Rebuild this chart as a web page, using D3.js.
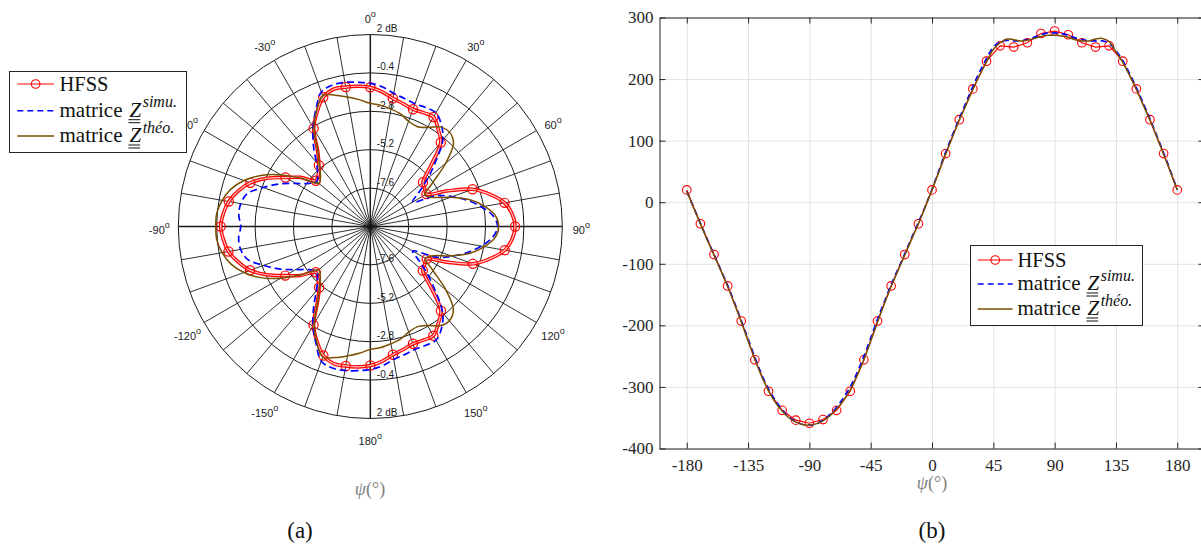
<!DOCTYPE html>
<html><head><meta charset="utf-8">
<script src="https://cdn.jsdelivr.net/npm/d3@7"></script>
<style>
body{margin:0;background:#fff} svg{display:block}
.serif{font-family:"Liberation Serif","DejaVu Serif",serif}
.sans{font-family:"Liberation Sans","DejaVu Sans",sans-serif}
</style>
</head><body>
<svg id="c" width="1201" height="544"></svg>
<script>
// ---------- DATA: polar radiation pattern (dB) ----------
const polarAngles = [-180,-175,-170,-165,-160,-155,-150,-145,-140,-135,-130,-125,-120,-115,-110,-105,-100,-95,
  -90,-85,-80,-75,-70,-65,-60,-55,-50,-45,-40,-35,-30,-25,-20,-15,-10,-5,
  0,5,10,15,20,25,30,35,40,45,50,55,60,65,70,75,80,85,
  90,95,100,105,110,115,120,125,130,135,140,145,150,155,160,165,170,175];
const hfssDb = [-1.31,-1.19,-1.15,-1.13,-1.42,-2.1,-2.9,-4.25,-5.02,-5.38,-5.55,-4.66,-3.86,-2.86,-2.0,-1.45,-1.0,-0.78,
  -0.65,-0.78,-1.02,-1.45,-2.02,-2.86,-3.88,-4.65,-5.55,-5.4,-5.0,-4.27,-2.92,-2.12,-1.4,-1.12,-1.15,-1.2,
  -1.3,-1.55,-1.87,-2.05,-2.2,-2.15,-2.1,-2.6,-3.15,-4.67,-5.7,-5.85,-5.95,-4.75,-3.2,-2.25,-1.48,-1.1,
  -0.95,-1.1,-1.47,-2.24,-3.18,-4.73,-5.93,-5.86,-5.72,-4.65,-3.13,-2.6,-2.12,-2.16,-2.2,-2.04,-1.86,-1.54];
const simuDb = [-1.06,-0.96,-0.86,-0.84,-1.04,-1.96,-2.84,-3.82,-4.76,-5.33,-5.6,-5.3,-4.6,-3.72,-2.9,-2.06,-1.77,-1.74,
  -1.9,-1.75,-1.78,-2.05,-2.88,-3.71,-4.62,-5.31,-5.62,-5.35,-4.75,-3.8,-2.85,-1.95,-1.05,-0.85,-0.85,-0.95,
  -1.05,-1.25,-1.55,-1.72,-1.84,-1.8,-1.8,-2.25,-2.95,-4.2,-5.3,-6.3,-6.95,-5.45,-4.55,-3.7,-2.95,-2.3,
  -2.04,-2.32,-2.96,-3.72,-4.56,-5.47,-6.93,-6.28,-5.31,-4.22,-2.96,-2.24,-1.79,-1.81,-1.83,-1.71,-1.56,-1.26];
const theoDb = [-2.32,-2.05,-1.79,-1.52,-1.32,-2.06,-2.96,-4.28,-5.06,-5.58,-5.78,-4.74,-3.54,-2.44,-1.6,-0.97,-0.6,-0.37,
  -0.34,-0.37,-0.6,-0.98,-1.6,-2.45,-3.55,-4.75,-5.8,-5.6,-5.05,-4.3,-2.95,-2.05,-1.3,-1.5,-1.78,-2.04,
  -2.3,-2.4,-2.55,-2.72,-3.0,-3.1,-2.85,-2.4,-2.3,-2.65,-3.85,-5.25,-6.05,-5.7,-4.65,-3.55,-2.75,-2.15,
  -1.98,-2.16,-2.76,-3.54,-4.64,-5.68,-6.03,-5.23,-3.83,-2.66,-2.31,-2.42,-2.86,-3.08,-2.98,-2.71,-2.56,-2.41];
const ringDb = [-7.6,-5.2,-2.8,-0.4,2];
const ringLabels = ['-7.6','-5.2','-2.8','-0.4','2 dB'];
const polarTickAngles = [0,30,60,90,120,150,180,210,240,270,300,330];
const polarTickLabels = ['0','30','60','90','120','150','180','-150','-120','-90','-60','-30'];

// ---------- DATA: phase curve ----------
const phaseAngles10 = [-180,-170,-160,-150,-140,-130,-120,-110,-100,-90,-80,-70,-60,-50,-40,-30,-20,-10,0,
  10,20,30,40,50,60,70,80,90,100,110,120,130,140,150,160,170,180];
const hfssPhase = [20,-35,-85,-136,-193,-256,-307,-338,-354,-359,-353,-338,-307,-256,-193,-136,-85,-35,20,
  79,134,184,229,254,252,259,274,278,272,259,252,254,229,184,134,79,20];
const phaseAngles5 = [-180,-175,-170,-165,-160,-155,-150,-145,-140,-135,-130,-125,-120,-115,-110,-105,-100,-95,
  -90,-85,-80,-75,-70,-65,-60,-55,-50,-45,-40,-35,-30,-25,-20,-15,-10,-5,0,
  5,10,15,20,25,30,35,40,45,50,55,60,65,70,75,80,85,90,95,100,105,110,115,120,125,130,135,140,145,150,155,160,165,170,175,180];
const simuPhase = [18,-8,-34,-60,-85,-110,-135,-163,-192,-222,-252,-280,-303,-322,-337,-349,-356,-361,
  -362,-360,-354,-345,-333,-318,-300,-277,-250,-221,-190,-162,-134,-109,-84,-58,-33,-7,21,
  51,81,109,136,162,188,212,233,252,260,263,262,262,264,268,272,275,275,274,271,267,264,262,262,262,258,246,230,209,186,161,135,108,80,51,20];
const theoPhase = [18,-9,-35,-61,-86,-111,-137,-165,-194,-225,-255,-283,-306,-325,-339,-350,-357,-361,
  -362,-360,-355,-347,-336,-322,-305,-282,-256,-226,-195,-165,-137,-111,-86,-60,-35,-8,20,
  49,78,106,133,158,183,207,228,248,259,265,264,262,263,266,269,271,271,270,268,264,262,262,265,266,261,244,227,206,183,158,133,106,78,49,20];
const phaseXTicks = [-180,-135,-90,-45,0,45,90,135,180];
const phaseYTicks = [-400,-300,-200,-100,0,100,200,300];

const legendLabels = ['HFSS','matrice','matrice'];
const legendSups = ['','simu.','théo.'];

// ---------- STYLE ----------
const RED = '#ff0000', BLUE = '#0000ff', BROWN = '#7a4f00', INK = '#1a1a1a';
const svg = d3.select('#c');

// ================= POLAR (a) =================
const cx = 370.3, cy = 226.5, R = 192;
const rS = d3.scaleLinear().domain([-10, 2]).range([0, R]);
const gP = svg.append('g').attr('transform', `translate(${cx},${cy})`);
const rad = a => a * Math.PI / 180;

gP.selectAll('line.spoke').data(d3.range(0, 360, 10)).join('line')
  .attr('x1', 0).attr('y1', 0)
  .attr('x2', d => R * Math.sin(rad(d))).attr('y2', d => -R * Math.cos(rad(d)))
  .attr('stroke', INK).attr('stroke-width', d => d % 90 === 0 ? 1.5 : 0.9);
gP.selectAll('circle.ring').data(ringDb).join('circle')
  .attr('r', d => rS(d)).attr('fill', 'none').attr('stroke', INK).attr('stroke-width', 1);

[-1, 1].forEach(s => {
  gP.selectAll(null).data(ringDb).join('text').attr('class', 'sans')
    .attr('x', 6.5).attr('y', d => s * rS(d) - 2.5)
    .attr('font-size', 10).attr('fill', INK)
    .text((d, i) => ringLabels[i]);
});

const angT = gP.selectAll('text.ang').data(polarTickAngles).join('text').attr('class', 'sans')
  .attr('x', d => 211 * Math.sin(rad(d))).attr('y', d => -211 * Math.cos(rad(d)) + 7.5)
  .attr('text-anchor', 'middle').attr('font-size', 11).attr('fill', INK);
angT.append('tspan').text((d, i) => polarTickLabels[i]);
angT.append('tspan').attr('font-size', 9).attr('dy', -6).text('o');

const polarLine = d3.lineRadial().angle(d => rad(d[0])).radius(d => rS(d[1]))
  .curve(d3.curveCatmullRomClosed.alpha(0.5));
const ptsH = polarAngles.map((a, i) => [a, hfssDb[i]]);
const ptsS = polarAngles.map((a, i) => [a, simuDb[i]]);
const ptsT = polarAngles.map((a, i) => [a, theoDb[i]]);

gP.append('path').attr('d', polarLine(ptsH)).attr('fill', 'none').attr('stroke', RED).attr('stroke-width', 3.6);
gP.append('path').attr('d', polarLine(ptsH)).attr('fill', 'none').attr('stroke', '#ffc4c4').attr('stroke-width', 1.2);
gP.selectAll('circle.mk').data(ptsH.filter(d => d[0] % 10 === 0)).join('circle')
  .attr('cx', d => rS(d[1]) * Math.sin(rad(d[0]))).attr('cy', d => -rS(d[1]) * Math.cos(rad(d[0])))
  .attr('r', 4.6).attr('fill', 'none').attr('stroke', RED).attr('stroke-width', 1.2);
gP.append('path').attr('d', polarLine(ptsS)).attr('fill', 'none').attr('stroke', BLUE)
  .attr('stroke-width', 1.7).attr('stroke-dasharray', '7,4');
gP.append('path').attr('d', polarLine(ptsT)).attr('fill', 'none').attr('stroke', BROWN).attr('stroke-width', 1.5);

// ================= PHASE (b) =================
const xS = d3.scaleLinear().domain([-200, 200]).range([659.5, 1204.5]);
const yS = d3.scaleLinear().domain([-400, 300]).range([448.5, 17.5]);
const AX = '#262626';

const gridX = svg.append('g').attr('transform', 'translate(0,448.5)')
  .call(d3.axisBottom(xS).tickValues(phaseXTicks).tickSize(-431).tickFormat(''));
const gridY = svg.append('g').attr('transform', 'translate(659.5,0)')
  .call(d3.axisLeft(yS).tickValues(phaseYTicks).tickSize(-545).tickFormat(''));
[gridX, gridY].forEach(g => { g.select('.domain').remove(); g.selectAll('line').attr('stroke', '#e3e3e3'); });

const lineLin = d3.line().x(d => xS(d[0])).y(d => yS(d[1]));
const lineSm = d3.line().x(d => xS(d[0])).y(d => yS(d[1])).curve(d3.curveCatmullRom.alpha(0.5));
const phH = phaseAngles10.map((a, i) => [a, hfssPhase[i]]);
const phS = phaseAngles5.map((a, i) => [a, simuPhase[i]]);
const phT = phaseAngles5.map((a, i) => [a, theoPhase[i]]);

svg.append('path').attr('d', lineLin(phH)).attr('fill', 'none').attr('stroke', RED).attr('stroke-width', 1.2);
svg.selectAll('circle.pm').data(phH).join('circle')
  .attr('cx', d => xS(d[0])).attr('cy', d => yS(d[1])).attr('r', 4.3)
  .attr('fill', 'none').attr('stroke', RED).attr('stroke-width', 1.1);
svg.append('path').attr('d', lineSm(phS)).attr('fill', 'none').attr('stroke', BLUE)
  .attr('stroke-width', 1.7).attr('stroke-dasharray', '6,4');
svg.append('path').attr('d', lineSm(phT)).attr('fill', 'none').attr('stroke', BROWN).attr('stroke-width', 1.5);

function styleAxis(g) {
  g.attr('font-family', null);
  g.select('.domain').attr('stroke', AX);
  g.selectAll('.tick line').attr('stroke', AX);
  g.selectAll('.tick text').attr('class', 'serif').attr('font-size', 17).attr('fill', AX);
}
styleAxis(svg.append('g').attr('transform', 'translate(0,448.5)')
  .call(d3.axisBottom(xS).tickValues(phaseXTicks).tickSizeInner(-6).tickSizeOuter(0).tickPadding(10).tickFormat(d => String(d))));
styleAxis(svg.append('g').attr('transform', 'translate(659.5,0)')
  .call(d3.axisLeft(yS).tickValues(phaseYTicks).tickSizeInner(-6).tickSizeOuter(0).tickPadding(6).tickFormat(d => String(d))));
styleAxis(svg.append('g').attr('transform', 'translate(0,17.5)')
  .call(d3.axisTop(xS).tickValues(phaseXTicks).tickSizeInner(-6).tickSizeOuter(0).tickFormat('')));
styleAxis(svg.append('g').attr('transform', 'translate(1204.5,0)')
  .call(d3.axisRight(yS).tickValues(phaseYTicks).tickSizeInner(-6).tickSizeOuter(0).tickFormat('')));

// ================= LEGENDS =================
function drawLegend(box, sx1, sx2, tx, rows) {
  const g = svg.append('g');
  g.append('rect').attr('x', box[0]).attr('y', box[1]).attr('width', box[2]).attr('height', box[3])
    .attr('fill', '#fff').attr('stroke', AX).attr('stroke-width', 1);
  rows.forEach((ry, i) => {
    const ln = g.append('line').attr('x1', sx1).attr('x2', sx2).attr('y1', ry).attr('y2', ry)
      .attr('stroke-width', i === 0 ? 1.2 : 1.6);
    if (i === 0) {
      ln.attr('stroke', RED);
      g.append('circle').attr('cx', (sx1 + sx2) / 2).attr('cy', ry).attr('r', 4.3)
        .attr('fill', 'none').attr('stroke', RED).attr('stroke-width', 1.1);
      g.append('text').attr('class', 'serif').attr('x', tx).attr('y', ry + 7).attr('font-size', 20.5)
        .attr('fill', '#111').text(legendLabels[i]);
    } else {
      ln.attr('stroke', i === 1 ? BLUE : BROWN);
      if (i === 1) ln.attr('stroke-dasharray', '6,4');
      const base = ry + 6;
      const t1 = g.append('text').attr('class', 'serif').attr('x', tx).attr('y', base)
        .attr('font-size', 21).attr('fill', '#111').text(legendLabels[i]);
      const zx = tx + t1.node().getComputedTextLength() + 7;
      const tz = g.append('text').attr('class', 'serif').attr('x', zx).attr('y', base)
        .attr('font-size', 21).attr('font-style', 'italic').attr('fill', '#111').text('Z');
      const zw = tz.node().getComputedTextLength();
      [3, 6].forEach(o => g.append('line').attr('x1', zx - 1).attr('x2', zx + zw - 1)
        .attr('y1', base + o).attr('y2', base + o).attr('stroke', '#111').attr('stroke-width', 1));
      g.append('text').attr('class', 'serif').attr('x', zx + zw + 1.5).attr('y', base - 9.5)
        .attr('font-size', 16).attr('font-style', 'italic').attr('fill', '#111').text(legendSups[i]);
    }
  });
}
drawLegend([9.5, 71.5, 177, 81], 17.3, 54, 59.5, [84, 110.7, 136]);
drawLegend([970.5, 245.5, 172, 80], 977.7, 1012.7, 1017.5, [260, 284, 309]);

// ================= AXIS TITLES / CAPTIONS =================
function psiLabel(x, y) {
  const t = svg.append('text').attr('class', 'serif').attr('x', x).attr('y', y).attr('text-anchor', 'middle')
    .attr('font-size', 18).attr('fill', '#808080');
  t.append('tspan').attr('font-style', 'italic').text('ψ');
  t.append('tspan').text('(°)');
}
psiLabel(370, 495);
psiLabel(932, 489);
svg.append('text').attr('class', 'serif').attr('x', 300).attr('y', 538).attr('text-anchor', 'middle')
  .attr('font-size', 23).attr('fill', '#111').text('(a)');
svg.append('text').attr('class', 'serif').attr('x', 932).attr('y', 538).attr('text-anchor', 'middle')
  .attr('font-size', 23).attr('fill', '#111').text('(b)');
</script>
</body></html>
